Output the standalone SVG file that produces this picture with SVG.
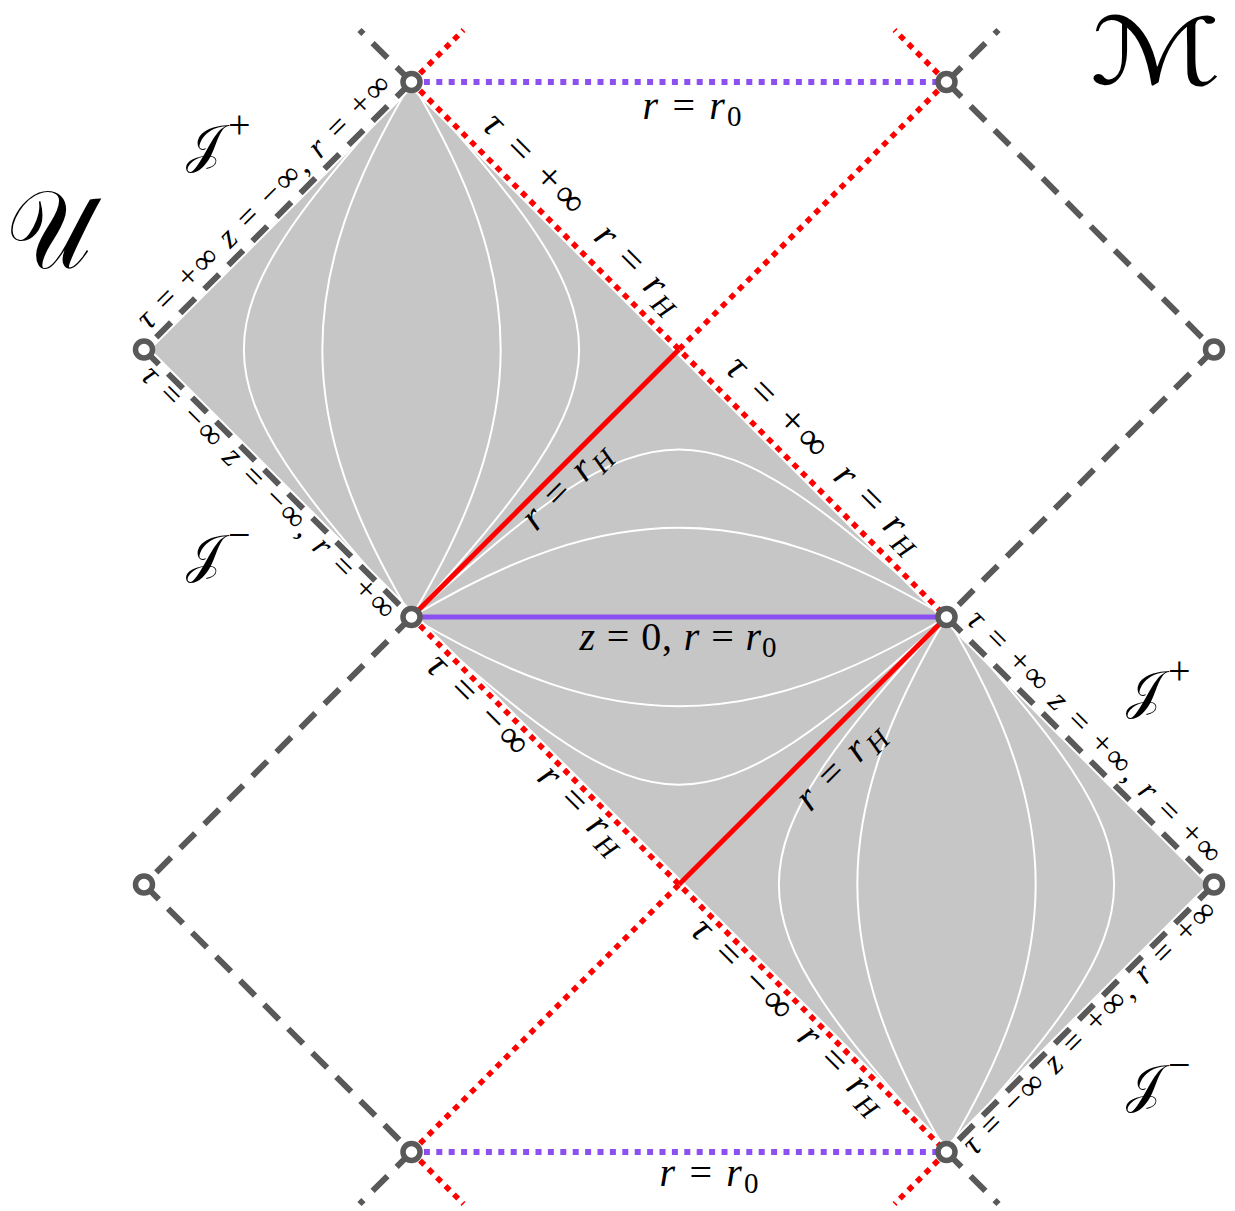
<svg xmlns="http://www.w3.org/2000/svg" width="1235" height="1211" viewBox="0 0 1235 1211">
<style>
.halo{stroke:#fff;stroke-width:10;fill:none}
.dash{stroke:#595959;stroke-width:6;stroke-dasharray:21 13;fill:none}
.rdot{stroke:#ff0000;stroke-width:5.5;stroke-dasharray:6 6;fill:none}
.pdot{stroke:#8c50f0;stroke-width:6;stroke-dasharray:6 6.4;fill:none}
.rsol{stroke:#ff0000;stroke-width:5;fill:none}
.psol{stroke:#8c50f0;stroke-width:5;fill:none}
.curve{stroke:#fff;stroke-width:2;fill:none}
.v{fill:#fff;stroke:#595959;stroke-width:5.5}
text{font-family:"Liberation Serif","Times New Roman",serif;fill:#000}
.e{font-size:33px}
.m{font-size:40px}
.i{font-style:italic}
.scr{font-family:"DejaVu Serif","DejaVu Sans","Noto Sans",serif}
.sup{font-family:"Liberation Serif",serif;font-size:40px}
</style>
<g id="regions">
<polygon points="144,349.5 411.5,82 1214,884.5 946.5,1152" fill="#c6c6c6"/>
<path class="curve" d="M411.5,82 C188,330.35 188,368.65 411.5,617 M411.5,82 C292.6,280.1 292.6,418.9 411.5,617 M411.5,82 C530.4,280.1 530.4,418.9 411.5,617 M411.5,82 C635,330.35 635,368.65 411.5,617"/>
<path class="curve" d="M411.5,617 C659.85,393.5 698.15,393.5 946.5,617 M411.5,617 C609.6,498.1 748.4,498.1 946.5,617 M411.5,617 C609.6,735.9 748.4,735.9 946.5,617 M411.5,617 C659.85,840.5 698.15,840.5 946.5,617"/>
<path class="curve" d="M946.5,617 C723,865.35 723,903.65 946.5,1152 M946.5,617 C827.6,815.1 827.6,953.9 946.5,1152 M946.5,617 C1065.4,815.1 1065.4,953.9 946.5,1152 M946.5,617 C1170,865.35 1170,903.65 946.5,1152"/>
</g>
<g id="connectors">
<path class="halo" d="M411.5,82 L144,349.5 L411.5,617 L144,884.5 L411.5,1152 M946.5,82 L1214,349.5 L946.5,617 L1214,884.5 L946.5,1152 M411.5,82 L946.5,617 M946.5,82 L679,349.5 M411.5,617 L946.5,1152 M411.5,1152 L679,884.5"/>
<path class="dash" d="M411.5,82 L359.5,30"/>
<path class="dash" d="M411.5,82 L144,349.5"/>
<path class="dash" d="M144,349.5 L411.5,617"/>
<path class="dash" d="M411.5,617 L144,884.5"/>
<path class="dash" d="M144,884.5 L411.5,1152"/>
<path class="dash" d="M411.5,1152 L359.5,1204"/>
<path class="dash" d="M946.5,82 L998.5,30"/>
<path class="dash" d="M946.5,82 L1214,349.5"/>
<path class="dash" d="M1214,349.5 L946.5,617"/>
<path class="dash" d="M946.5,617 L1214,884.5"/>
<path class="dash" d="M1214,884.5 L946.5,1152"/>
<path class="dash" d="M946.5,1152 L998.5,1204"/>
<path class="rdot" d="M411.5,82 L463.5,30"/>
<path class="rdot" d="M411.5,82 L946.5,617"/>
<path class="rdot" d="M946.5,82 L894.5,30"/>
<path class="rdot" d="M946.5,82 L679,349.5"/>
<path class="rdot" d="M411.5,617 L946.5,1152"/>
<path class="rdot" d="M411.5,1152 L679,884.5"/>
<path class="rdot" d="M411.5,1152 L463.5,1204"/>
<path class="rdot" d="M946.5,1152 L894.5,1204"/>
<path class="pdot" d="M411.5,82 L946.5,82"/>
<path class="pdot" d="M411.5,1152 L946.5,1152"/>
<path class="psol" d="M411.5,617 L946.5,617"/>
<path class="rsol" d="M411.5,617 L679,349.5"/>
<path class="rsol" d="M679,884.5 L946.5,617"/>
</g>
<g id="v-top-left"><circle class="v" cx="411.5" cy="82" r="8.5"/></g>
<g id="v-top-right"><circle class="v" cx="946.5" cy="82" r="8.5"/></g>
<g id="v-left"><circle class="v" cx="144" cy="349.5" r="8.5"/></g>
<g id="v-right"><circle class="v" cx="1214" cy="349.5" r="8.5"/></g>
<g id="v-center-left"><circle class="v" cx="411.5" cy="617" r="8.5"/></g>
<g id="v-center-right"><circle class="v" cx="946.5" cy="617" r="8.5"/></g>
<g id="v-lower-left"><circle class="v" cx="144" cy="884.5" r="8.5"/></g>
<g id="v-lower-right"><circle class="v" cx="1214" cy="884.5" r="8.5"/></g>
<g id="v-bottom-left"><circle class="v" cx="411.5" cy="1152" r="8.5"/></g>
<g id="v-bottom-right"><circle class="v" cx="946.5" cy="1152" r="8.5"/></g>
<g id="edge-labels">
<text class="e" text-anchor="middle" textLength="345" lengthAdjust="spacing" transform="translate(277.75,215.75) rotate(-45)" y="-10"><tspan class="i">τ</tspan> = +∞ <tspan class="i">z</tspan> = −∞, <tspan class="i">r</tspan> = +∞</text>
<text class="e" text-anchor="middle" textLength="345" lengthAdjust="spacing" transform="translate(277.75,483.25) rotate(45)" y="23"><tspan class="i">τ</tspan> = −∞ <tspan class="i">z</tspan> = −∞, <tspan class="i">r</tspan> = +∞</text>
<text class="e" text-anchor="middle" textLength="345" lengthAdjust="spacing" transform="translate(1080.25,750.75) rotate(45)" y="-10"><tspan class="i">τ</tspan> = +∞ <tspan class="i">z</tspan> = +∞, <tspan class="i">r</tspan> = +∞</text>
<text class="e" text-anchor="middle" textLength="345" lengthAdjust="spacing" transform="translate(1080.25,1018.25) rotate(-45)" y="23"><tspan class="i">τ</tspan> = −∞ <tspan class="i">z</tspan> = +∞, <tspan class="i">r</tspan> = +∞</text>
<text class="m" text-anchor="middle" textLength="128" lengthAdjust="spacing" transform="translate(513.7,184.2) rotate(45)" y="-17"><tspan class="i">τ</tspan> = +∞</text>
<text class="m" text-anchor="middle" textLength="108" lengthAdjust="spacing" transform="translate(618.3,288.8) rotate(45)" y="-17"><tspan class="i">r</tspan> = <tspan class="i">r</tspan><tspan class="i" font-size="28" dy="7">H</tspan></text>
<text class="m" text-anchor="middle" textLength="128" lengthAdjust="spacing" transform="translate(757,427.5) rotate(45)" y="-17"><tspan class="i">τ</tspan> = +∞</text>
<text class="m" text-anchor="middle" textLength="108" lengthAdjust="spacing" transform="translate(858,528.5) rotate(45)" y="-17"><tspan class="i">r</tspan> = <tspan class="i">r</tspan><tspan class="i" font-size="28" dy="7">H</tspan></text>
<text class="m" text-anchor="middle" textLength="128" lengthAdjust="spacing" transform="translate(488.7,694.2) rotate(45)" y="27"><tspan class="i">τ</tspan> = −∞</text>
<text class="m" text-anchor="middle" textLength="108" lengthAdjust="spacing" transform="translate(592.7,798.2) rotate(45)" y="27"><tspan class="i">r</tspan> = <tspan class="i">r</tspan><tspan class="i" font-size="28" dy="7">H</tspan></text>
<text class="m" text-anchor="middle" textLength="128" lengthAdjust="spacing" transform="translate(753,958.5) rotate(45)" y="27"><tspan class="i">τ</tspan> = −∞</text>
<text class="m" text-anchor="middle" textLength="108" lengthAdjust="spacing" transform="translate(852.7,1058.2) rotate(45)" y="27"><tspan class="i">r</tspan> = <tspan class="i">r</tspan><tspan class="i" font-size="28" dy="7">H</tspan></text>
<text class="m" text-anchor="middle" textLength="108" lengthAdjust="spacing" transform="translate(554.3,474.2) rotate(-45)" y="28"><tspan class="i">r</tspan> = <tspan class="i">r</tspan><tspan class="i" font-size="28" dy="7">H</tspan></text>
<text class="m" text-anchor="middle" textLength="108" lengthAdjust="spacing" transform="translate(818.7,744.8) rotate(-45)" y="42"><tspan class="i">r</tspan> = <tspan class="i">r</tspan><tspan class="i" font-size="28" dy="7">H</tspan></text>
<text class="m" text-anchor="middle" textLength="99" lengthAdjust="spacing" x="692" y="119"><tspan class="i">r</tspan> = <tspan class="i">r</tspan><tspan font-size="29" dy="7">0</tspan></text>
<text class="m" text-anchor="middle" textLength="99" lengthAdjust="spacing" x="709" y="1186"><tspan class="i">r</tspan> = <tspan class="i">r</tspan><tspan font-size="29" dy="7">0</tspan></text>
<text class="m" text-anchor="middle" textLength="197" lengthAdjust="spacing" x="678" y="650"><tspan class="i">z</tspan> = 0, <tspan class="i">r</tspan> = <tspan class="i">r</tspan><tspan font-size="29" dy="7">0</tspan></text>
</g>
<g id="scri-labels">
<text class="scr" x="186" y="162" font-size="52">𝒥<tspan class="sup" dx="6" dy="-24">+</tspan></text>
<text class="scr" x="186" y="572" font-size="52">𝒥<tspan class="sup" dx="6" dy="-24">−</tspan></text>
<text class="scr" x="1126" y="708" font-size="52">𝒥<tspan class="sup" dx="6" dy="-24">+</tspan></text>
<text class="scr" x="1126" y="1102" font-size="52">𝒥<tspan class="sup" dx="6" dy="-24">−</tspan></text>
<text class="scr" font-size="112" transform="translate(6,268) scale(0.85,1)">𝒰</text>
<text class="scr" font-size="88" transform="translate(1090,84) scale(1.4,1.05)">ℳ</text>
</g>
</svg>
